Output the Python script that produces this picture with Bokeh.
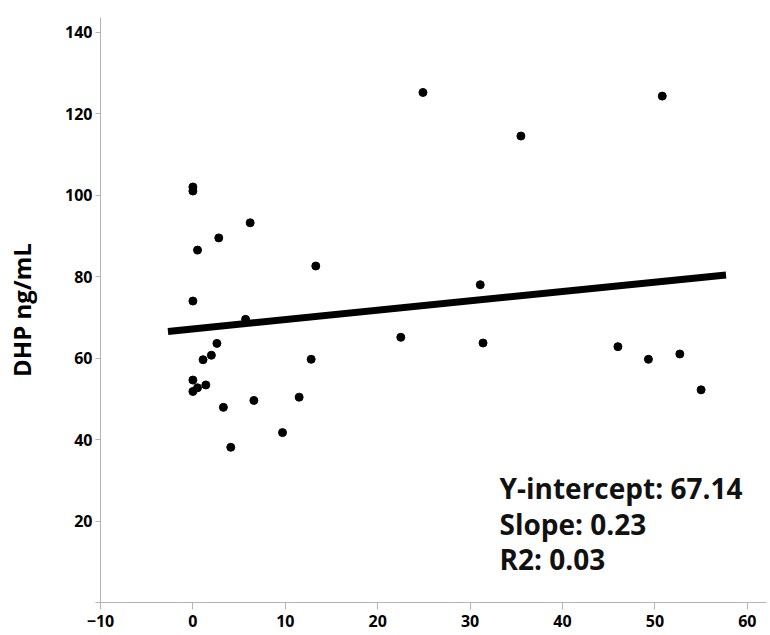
from bokeh.plotting import figure
from bokeh.models import Label, FixedTicker, Range1d
from bokeh.embed import file_html
from bokeh.resources import INLINE

# ---- data ----
x_vals = [0.0, 0.0, 6.2, 2.8, 0.5, 13.3, 0.0, 5.7, 2.6, 2.0,
          1.1, 12.8, 0.0, 0.5, 0.0, 1.4, 3.3, 6.6, 11.5, 9.7,
          4.1, 24.9, 50.8, 35.5, 31.1, 22.5, 31.4, 46.0, 49.3, 52.7,
          55.0]
y_vals = [102.0, 101.0, 93.2, 89.5, 86.5, 82.6, 74.0, 69.5, 63.6, 60.7,
          59.6, 59.7, 54.6, 52.7, 51.8, 53.4, 47.9, 49.6, 50.4, 41.7,
          38.1, 125.2, 124.3, 114.5, 78.0, 65.1, 63.7, 62.8, 59.7, 61.0,
          52.2]

intercept = 67.14
slope = 0.23
r2 = 0.03
fit_x = [-2.7, 57.7]
fit_y = [intercept + slope * v for v in fit_x]

x_ticks = [-10, 0, 10, 20, 30, 40, 50, 60]
y_ticks = [0, 20, 40, 60, 80, 100, 120, 140]

stats_lines = [f"Y-intercept: {intercept:.2f}", f"Slope: {slope:.2f}", f"R2: {r2:.2f}"]

FONT = "Open Sans"
AXIS_GRAY = "#b4b4b4"

p = figure(width=768, height=633,
           x_range=Range1d(-10, 62.08), y_range=Range1d(0, 143.6),
           output_backend="svg", toolbar_location=None,
           min_border_left=100, min_border_top=17,
           min_border_right=2, min_border_bottom=31)

p.xgrid.visible = False
p.ygrid.visible = False
p.outline_line_color = None
p.background_fill_color = "white"
p.border_fill_color = "white"

# x axis
xa = p.xaxis[0]
xa.ticker = FixedTicker(ticks=x_ticks)
xa.axis_line_color = AXIS_GRAY
xa.major_tick_line_color = AXIS_GRAY
xa.major_tick_in = 0
xa.major_tick_out = 7
xa.minor_tick_line_color = None
xa.major_label_standoff = 5
xa.major_label_text_font = FONT
xa.major_label_text_font_style = "bold"
xa.major_label_text_font_size = "16px"
xa.major_label_text_color = "black"

# y axis
ya = p.yaxis[0]
ya.ticker = FixedTicker(ticks=y_ticks)
ya.major_label_overrides = {0: ""}
ya.axis_line_color = AXIS_GRAY
ya.major_tick_line_color = AXIS_GRAY
ya.major_tick_in = 0
ya.major_tick_out = 5
ya.minor_tick_line_color = None
ya.major_label_standoff = 3
ya.major_label_text_font = FONT
ya.major_label_text_font_style = "bold"
ya.major_label_text_font_size = "16px"
ya.major_label_text_color = "black"
ya.axis_label = "DHP ng/mL"
ya.axis_label_text_font = FONT
ya.axis_label_text_font_style = "bold"
ya.axis_label_text_font_size = "24px"
ya.axis_label_text_color = "black"
ya.axis_label_standoff = 24

# regression line and points
p.line(fit_x, fit_y, line_width=7, color="black")
p.scatter(x_vals, y_vals, size=8, color="black")

# stats text
offsets = [115, 79, 44]
for txt, yoff in zip(stats_lines, offsets):
    p.add_layout(Label(x=399, y=yoff, x_units="screen", y_units="screen",
                       text=txt, text_font=FONT, text_font_style="bold",
                       text_font_size="28px", text_color="#111111",
                       text_baseline="alphabetic"))

open("out.html", "w").write(file_html(p, INLINE))
